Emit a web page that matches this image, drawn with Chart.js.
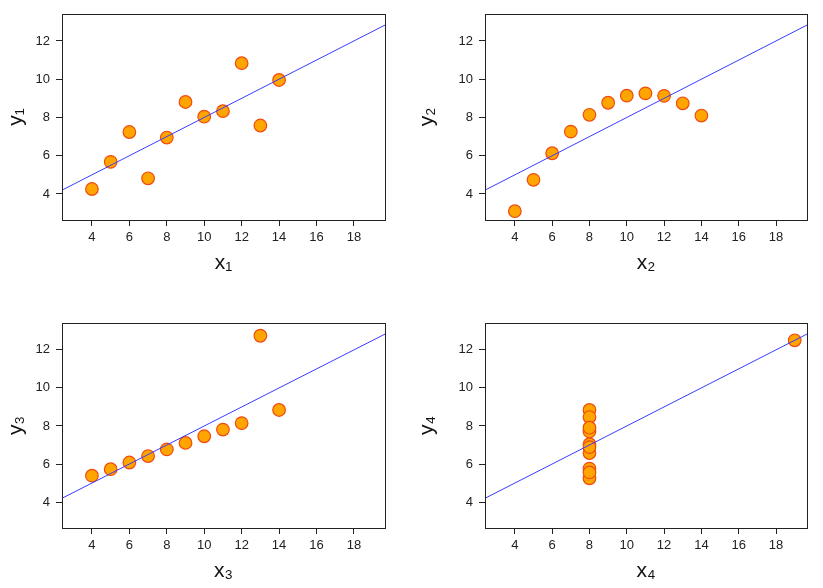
<!DOCTYPE html>
<html><head><meta charset="utf-8">
<script src="https://cdn.jsdelivr.net/npm/chart.js@4"></script>
<style>
body{margin:0;background:#fff;}
.p{position:absolute;width:411px;height:294px;}
</style></head><body>
<div class="p" style="left:0;top:0"><canvas id="c1"></canvas></div>
<div class="p" style="left:411px;top:0"><canvas id="c2"></canvas></div>
<div class="p" style="left:0;top:294px"><canvas id="c3"></canvas></div>
<div class="p" style="left:411px;top:294px"><canvas id="c4"></canvas></div>
<script>
const x123 = [10, 8, 13, 9, 11, 14, 6, 4, 12, 7, 5];
const x4 = [8, 8, 8, 8, 8, 8, 8, 19, 8, 8, 8];
const y1 = [8.04, 6.95, 7.58, 8.81, 8.33, 9.96, 7.24, 4.26, 10.84, 4.82, 5.68];
const y2 = [9.14, 8.14, 8.74, 8.77, 9.26, 8.10, 6.13, 3.10, 9.13, 7.26, 4.74];
const y3 = [7.46, 6.77, 12.74, 7.11, 7.81, 8.84, 6.08, 5.39, 8.15, 6.42, 5.73];
const y4 = [6.58, 5.76, 7.71, 8.84, 8.47, 7.04, 5.25, 12.50, 5.56, 7.91, 6.89];
const xTicks = [4, 6, 8, 10, 12, 14, 16, 18];
const yTicks = [4, 6, 8, 10, 12];
const X_MIN = 2.4, X_MAX = 19.66, Y_MIN = 2.64, Y_MAX = 13.41;

const boxPlugin = {
  id: "box",
  afterDraw(chart) {
    const a = chart.chartArea, ctx = chart.ctx;
    ctx.save();
    ctx.strokeStyle = "#222";
    ctx.lineWidth = 1;
    ctx.strokeRect(a.left + 0.5, a.top + 0.5, a.right - a.left, a.bottom - a.top);
    ctx.restore();
  }
};

function fit(xs, ys) {
  const n = xs.length;
  const mx = xs.reduce((s, v) => s + v, 0) / n, my = ys.reduce((s, v) => s + v, 0) / n;
  let sxy = 0, sxx = 0;
  for (let i = 0; i < n; i++) { sxy += (xs[i] - mx) * (ys[i] - my); sxx += (xs[i] - mx) ** 2; }
  const b = sxy / sxx, a = my - b * mx;
  return [{x: X_MIN, y: a + b * X_MIN}, {x: X_MAX, y: a + b * X_MAX}];
}

function panel(id, xs, ys, idx, pad, yW, xH) {
  const pts = xs.map((x, i) => ({x: x, y: ys[i]}));
  new Chart(document.getElementById(id), {
    type: "scatter",
    data: {datasets: [
      {type: "line", data: fit(xs, ys), borderColor: "#3b3bff", borderWidth: 1, pointRadius: 0},
      {data: pts, backgroundColor: "#ffa500", borderColor: "#f04a10", borderWidth: 1.2, pointRadius: 6.3}
    ]},
    options: {
      responsive: true, maintainAspectRatio: false, animation: false,
      layout: {padding: pad},
      plugins: {legend: {display: false}, tooltip: {enabled: false}},
      scales: {
        x: {
          type: "linear", min: X_MIN, max: X_MAX,
          afterBuildTicks: s => { s.ticks = xTicks.map(v => ({value: v})); },
          afterFit: s => { s.height = xH; },
          grid: {drawOnChartArea: false, tickLength: 6, color: "#222"},
          border: {color: "#222"},
          ticks: {color: "#222", font: {size: 13, family: "Liberation Sans"}, padding: 4},
          title: {display: true, text: "x" + idx, color: "#111", font: {size: 21, family: "Liberation Sans"}, padding: {top: 2}}
        },
        y: {
          min: Y_MIN, max: Y_MAX,
          afterBuildTicks: s => { s.ticks = yTicks.map(v => ({value: v})); },
          afterFit: s => { s.width = yW; },
          grid: {drawOnChartArea: false, tickLength: 6, color: "#222"},
          border: {color: "#222"},
          ticks: {color: "#222", font: {size: 13, family: "Liberation Sans"}, padding: 6},
          title: {display: true, text: "y" + idx, color: "#111", font: {size: 21, family: "Liberation Sans"}, padding: {bottom: 8}}
        }
      }
    },
    plugins: [boxPlugin]
  });
}
panel("c1", x123, y1, "₁", {top: 14, right: 26, bottom: 14}, 62, 60);
panel("c2", x123, y2, "₂", {top: 14, right: 15, bottom: 14}, 74, 60);
panel("c3", x123, y3, "₃", {top: 29, right: 26}, 62, 60);
panel("c4", x4, y4, "₄", {top: 29, right: 15}, 74, 60);
</script></body></html>
